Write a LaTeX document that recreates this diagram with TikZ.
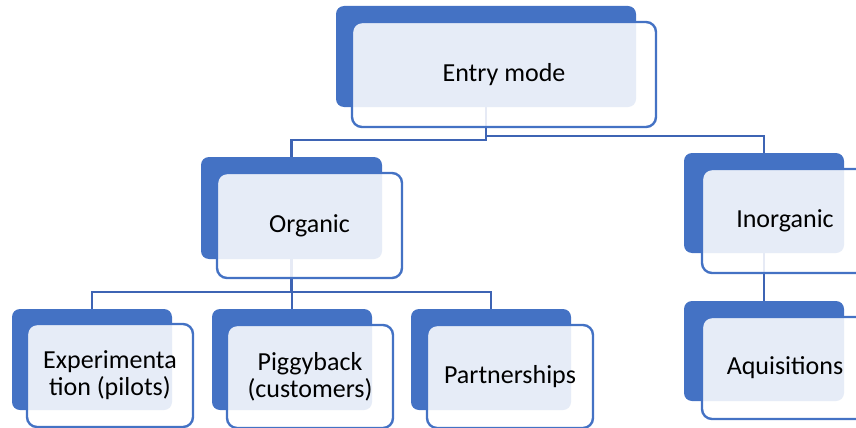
\documentclass[tikz,border=0pt]{standalone}
\usepackage{fontspec}
\setmainfont{Carlito}
\usetikzlibrary{backgrounds}
\definecolor{boxblue}{RGB}{68,114,196}
\definecolor{lineblue}{RGB}{62,100,180}
\tikzset{
  backplate/.style={fill=boxblue, rounded corners=8pt, inner sep=0pt, outer sep=0pt,
    anchor=north west, draw=none},
  labelbox/.style={draw=boxblue, line width=2.4pt, fill=white, fill opacity=0.87,
    text opacity=1, rounded corners=10pt, inner sep=0pt, outer sep=0pt,
    anchor=north west, align=center,
    font=\fontsize{26}{27}\selectfont},
  link/.style={draw=lineblue, line width=2.3pt},
}
\begin{document}
\begin{tikzpicture}[x=1pt, y=-1pt]
  \useasboundingbox (0,0) rectangle (856,428);
  \clip (0,0) rectangle (856,428);

  % coloured back plates
  \node[backplate, minimum width=300pt, minimum height=101pt] (entryB) at (336,6) {};
  \node[backplate, minimum width=181pt, minimum height=102pt] (orgB) at (201,157) {};
  \node[backplate, minimum width=160pt, minimum height=100pt] (inorgB) at (684,153) {};
  \node[backplate, minimum width=160pt, minimum height=100pt] (aquB) at (684,301) {};
  \node[backplate, minimum width=160pt, minimum height=101pt] (expB) at (12,309) {};
  \node[backplate, minimum width=160pt, minimum height=101pt] (pigB) at (212,309) {};
  \node[backplate, minimum width=160pt, minimum height=101pt] (partB) at (411,309) {};

  % translucent text boxes
  \node[labelbox, minimum width=304pt, minimum height=105pt] (entry) at (352,22) {Entry mode};
  \node[labelbox, minimum width=185pt, minimum height=105pt] (org) at (217,173) {Organic};
  \node[labelbox, minimum width=166pt, minimum height=104pt] (inorg) at (702,169) {Inorganic};
  \node[labelbox, minimum width=166pt, minimum height=102pt] (aqu) at (702,317) {Aquisitions};
  \node[labelbox, minimum width=166pt, minimum height=103pt] (exp) at (27,324) {Experimenta\\tion (pilots)};
  \node[labelbox, minimum width=166pt, minimum height=103pt] (pig) at (227,325) {Piggyback\\(customers)};
  \node[labelbox, minimum width=166pt, minimum height=103pt] (part) at (427,325) {Partnerships};

  % connectors, beneath everything
  \begin{scope}[on background layer]
    \draw[link] (entryB.south) -- (entryB.south |- 0,140) -| (orgB.north);
    \draw[link] (entryB.south) -- (entryB.south |- 0,136) -| (inorgB.north);
    \draw[link] (orgB.south) -- (orgB.south |- 0,292) -| (expB.north);
    \draw[link] (orgB.south) -- (orgB.south |- 0,292) -| (pigB.north);
    \draw[link] (orgB.south) -- (orgB.south |- 0,292) -| (partB.north);
    \draw[link] (inorgB.south) -- (aquB.north);
  \end{scope}
\end{tikzpicture}
\end{document}
